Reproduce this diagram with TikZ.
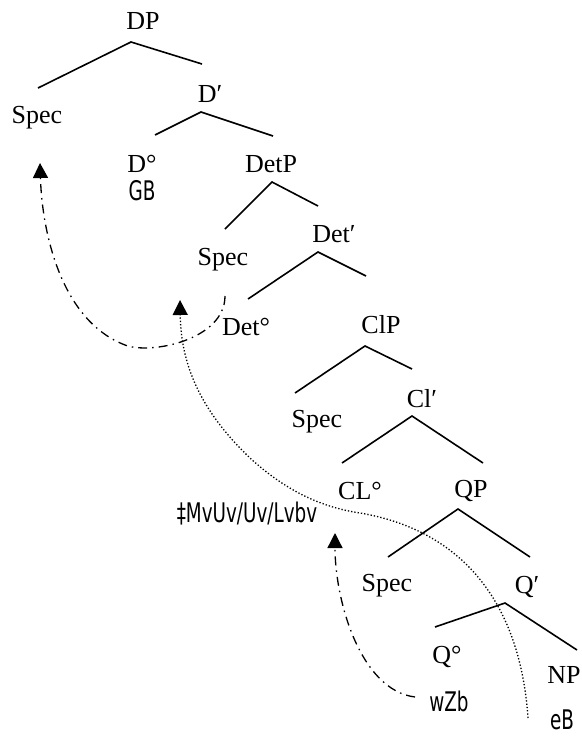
\documentclass[tikz,border=0pt]{standalone}
\usepackage{fontspec}
\setmainfont{Liberation Serif}
\newfontfamily\bnfont[FakeStretch=0.68]{DejaVu Sans}
\usetikzlibrary{arrows.meta}
\begin{document}
\begin{tikzpicture}[x=1pt,y=-1pt,
  lbl/.style={anchor=base,inner sep=0pt,font=\fontsize{26}{30}\selectfont},
  bn/.style={anchor=base,inner sep=0pt,font=\bnfont\fontsize{27}{30}\selectfont},
  branch/.style={line width=1.6pt},
  dashdot/.style={line width=1.3pt,dash pattern=on 9pt off 5pt on 1.5pt off 5pt},
  dots/.style={line width=1.3pt,dash pattern=on 1.3pt off 2pt},
  tip/.style={-{Triangle[width=15pt,length=15pt]}}]
\useasboundingbox (0,0) rectangle (581,736);
% labels
\node[lbl] (DP)    at (143,29)  {DP};
\node[lbl] (spec1) at (37,123)  {Spec};
\node[lbl] (Dbar)  at (210,102) {D′};
\node[lbl] (Dhead) at (142,172) {D°};
\node[bn]  (GB)    at (142,200) {GB};
\node[lbl] (DetP)  at (271,172) {DetP};
\node[lbl] (spec2) at (223,265) {Spec};
\node[lbl] (Detbar) at (334,242) {Det′};
\node[lbl] (Dethead) at (246,335) {Det°};
\node[lbl] (ClP)   at (381,333) {ClP};
\node[lbl] (spec3) at (317,427) {Spec};
\node[lbl] (Clbar) at (422,407) {Cl′};
\node[lbl] (CLhead) at (360,499) {CL°};
\node[lbl] (QP)    at (471,497) {QP};
\node[bn]  (tota)  at (247,522) {‡MvUv/Uv/Lvbv};
\node[lbl] (spec4) at (387,591) {Spec};
\node[lbl] (Qbar)  at (527,593) {Q′};
\node[lbl] (Qhead) at (447,663) {Q°};
\node[lbl] (NP)    at (564,683) {NP};
\node[bn]  (tin)   at (449,711) {wZb};
\node[bn]  (boi)   at (562,729) {eB};
% branch points
\coordinate (dpA) at (131,42);  \coordinate (dpL) at (38,88);   \coordinate (dpR) at (202,64);
\coordinate (dbA) at (201,112); \coordinate (dbL) at (155,135); \coordinate (dbR) at (273,136);
\coordinate (detpA) at (272,182); \coordinate (detpL) at (225,229); \coordinate (detpR) at (318,206);
\coordinate (detbA) at (318,252); \coordinate (detbL) at (248,299); \coordinate (detbR) at (366,276);
\coordinate (clpA) at (365,346); \coordinate (clpL) at (295,393); \coordinate (clpR) at (412,369);
\coordinate (clbA) at (412,416); \coordinate (clbL) at (342,463); \coordinate (clbR) at (483,463);
\coordinate (qpA) at (458,509); \coordinate (qpL) at (388,557); \coordinate (qpR) at (530,557);
\coordinate (qbA) at (505,603); \coordinate (qbL) at (435,627); \coordinate (qbR) at (577,650);
\draw[branch] (dpL) -- (dpA) -- (dpR);
\draw[branch] (dbL) -- (dbA) -- (dbR);
\draw[branch] (detpL) -- (detpA) -- (detpR);
\draw[branch] (detbL) -- (detbA) -- (detbR);
\draw[branch] (clpL) -- (clpA) -- (clpR);
\draw[branch] (clbL) -- (clbA) -- (clbR);
\draw[branch] (qpL) -- (qpA) -- (qpR);
\draw[branch] (qbL) -- (qbA) -- (qbR);
% movement arrows
\coordinate (m1s) at (225,296);
\coordinate (m1e) at (40,163);
\draw[dashdot,tip] (m1s) .. controls (225,340) and (150,355) .. (125,345)
   .. controls (60,320) and (42,230) .. (m1e);
\coordinate (m2s) at (528,718);
\coordinate (m2e) at (180,300);
\draw[dots,tip] (m2s) .. controls (520,600) and (460,530) .. (360,513)
   .. controls (320,507) and (285,490) .. (250,458)
   .. controls (205,415) and (181,370) .. (m2e);
\coordinate (m3s) at (415,697);
\coordinate (m3e) at (335,533);
\draw[dashdot,tip] (m3s) .. controls (360,690) and (335,600) .. (m3e);
\end{tikzpicture}
\end{document}
